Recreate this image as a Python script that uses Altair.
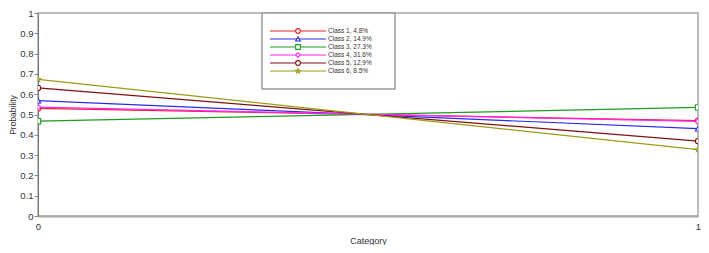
import altair as alt
import pandas as pd

# ---- data ----
classes = ["Class 1, 4.8%", "Class 2, 14.9%", "Class 3, 27.3%",
           "Class 4, 31.6%", "Class 5, 12.9%", "Class 6, 8.5%"]
categories = [0, 1]
prob_at_0 = [0.530, 0.568, 0.467, 0.536, 0.631, 0.673]
prob_at_1 = [0.470, 0.430, 0.535, 0.466, 0.369, 0.327]
y_ticks = [round(i / 10, 1) for i in range(11)]

colors = ["#ee2020", "#2a2aee", "#1f9a1f", "#ff25ff", "#7f1212", "#9c9c18"]
star = ("M0,-1L0.235,-0.324L0.951,-0.309L0.38,0.124L0.588,0.809L0,0.4"
        "L-0.588,0.809L-0.38,0.124L-0.951,-0.309L-0.235,-0.324Z")
shapes = ["circle", "triangle-up", "square", "diamond", "circle", star]

rows = []
for c, a, b in zip(classes, prob_at_0, prob_at_1):
    rows.append({"cls": c, "cat": categories[0], "p": a})
    rows.append({"cls": c, "cat": categories[1], "p": b})
df = pd.DataFrame(rows)
leg = pd.DataFrame({"cls": classes})

font = "Liberation Sans"
color_scale = alt.Scale(domain=classes, range=colors)
shape_scale = alt.Scale(domain=classes, range=shapes)

x_enc = alt.X("cat:Q", scale=alt.Scale(domain=[0, 1], nice=False),
              axis=alt.Axis(values=categories, format="d", title="Category",
                            tickSize=0, labelPadding=5, labelFontSize=9.5,
                            titleFontSize=9, titleFontWeight="normal",
                            titleBaseline="middle", titleY=24,
                            domainColor="#a8a8a8", domainWidth=2,
                            labelColor="#333333", titleColor="#333333",
                            labelFont=font, titleFont=font, grid=False,
                            labelFlush=False))
y_scale = alt.Scale(domain=[0, 1], nice=False)

lines = alt.Chart(df).mark_line(strokeWidth=1.2).encode(
    x=x_enc,
    y=alt.Y("p:Q", scale=y_scale,
            axis=alt.Axis(values=y_ticks, format="~g", title="Probability",
                          tickSize=4, tickColor="#888888", labelPadding=1,
                          labelFontSize=9.5, titleFontSize=8.5,
                          titleFontWeight="normal", titleAngle=270,
                          titleBaseline="middle", titleX=-26,
                          domainColor="#777777", domainWidth=1,
                          labelColor="#333333", titleColor="#333333",
                          labelFont=font, titleFont=font, grid=False,
                          labelFlush=False)),
    color=alt.Color("cls:N", scale=color_scale, legend=None),
    detail="cls:N",
)

points = alt.Chart(df).mark_point(size=28, fill="white", fillOpacity=1,
                                  opacity=1, strokeWidth=1.1,
                                  clip=True).encode(
    x=x_enc,
    y=alt.Y("p:Q", scale=y_scale, axis=None),
    color=alt.Color("cls:N", scale=color_scale, legend=None),
    shape=alt.Shape("cls:N", scale=shape_scale, legend=None),
)

# ---- legend drawn as its own small layer ----
leg_y = alt.Y("cls:N", scale=alt.Scale(type="point", domain=classes,
                                       range=[14, 62]), axis=None)

box = alt.Chart(pd.DataFrame({"k": [0]})).mark_rect(
    fill="white", stroke="#9a9a9a", strokeWidth=1.5).encode(
    x=alt.value(224), x2=alt.value(357), y=alt.value(0), y2=alt.value(76))

leg_lines = alt.Chart(leg).mark_rule(strokeWidth=1.2).encode(
    x=alt.value(232), x2=alt.value(288), y=leg_y,
    color=alt.Color("cls:N", scale=color_scale, legend=None))

leg_pts = alt.Chart(leg).mark_point(size=22, fill="white", fillOpacity=1,
                                    opacity=1, strokeWidth=1.1).encode(
    x=alt.value(260), y=leg_y,
    color=alt.Color("cls:N", scale=color_scale, legend=None),
    shape=alt.Shape("cls:N", scale=shape_scale, legend=None))

leg_text = alt.Chart(leg).mark_text(align="left", baseline="middle",
                                    fontSize=6.5, font=font,
                                    color="#333333").encode(
    x=alt.value(290), y=leg_y, text="cls:N")

chart = alt.layer(lines, points, box, leg_lines, leg_pts, leg_text).resolve_scale(
    y="independent"
).properties(
    width=660, height=203,
    padding={"left": 30, "top": 5, "right": 3, "bottom": 29},
    autosize=alt.AutoSizeParams(type="none"),
).configure_view(stroke="#a8a8a8", strokeWidth=1.5)

chart.save("out.html", embed_options={"renderer": "svg", "actions": False})
